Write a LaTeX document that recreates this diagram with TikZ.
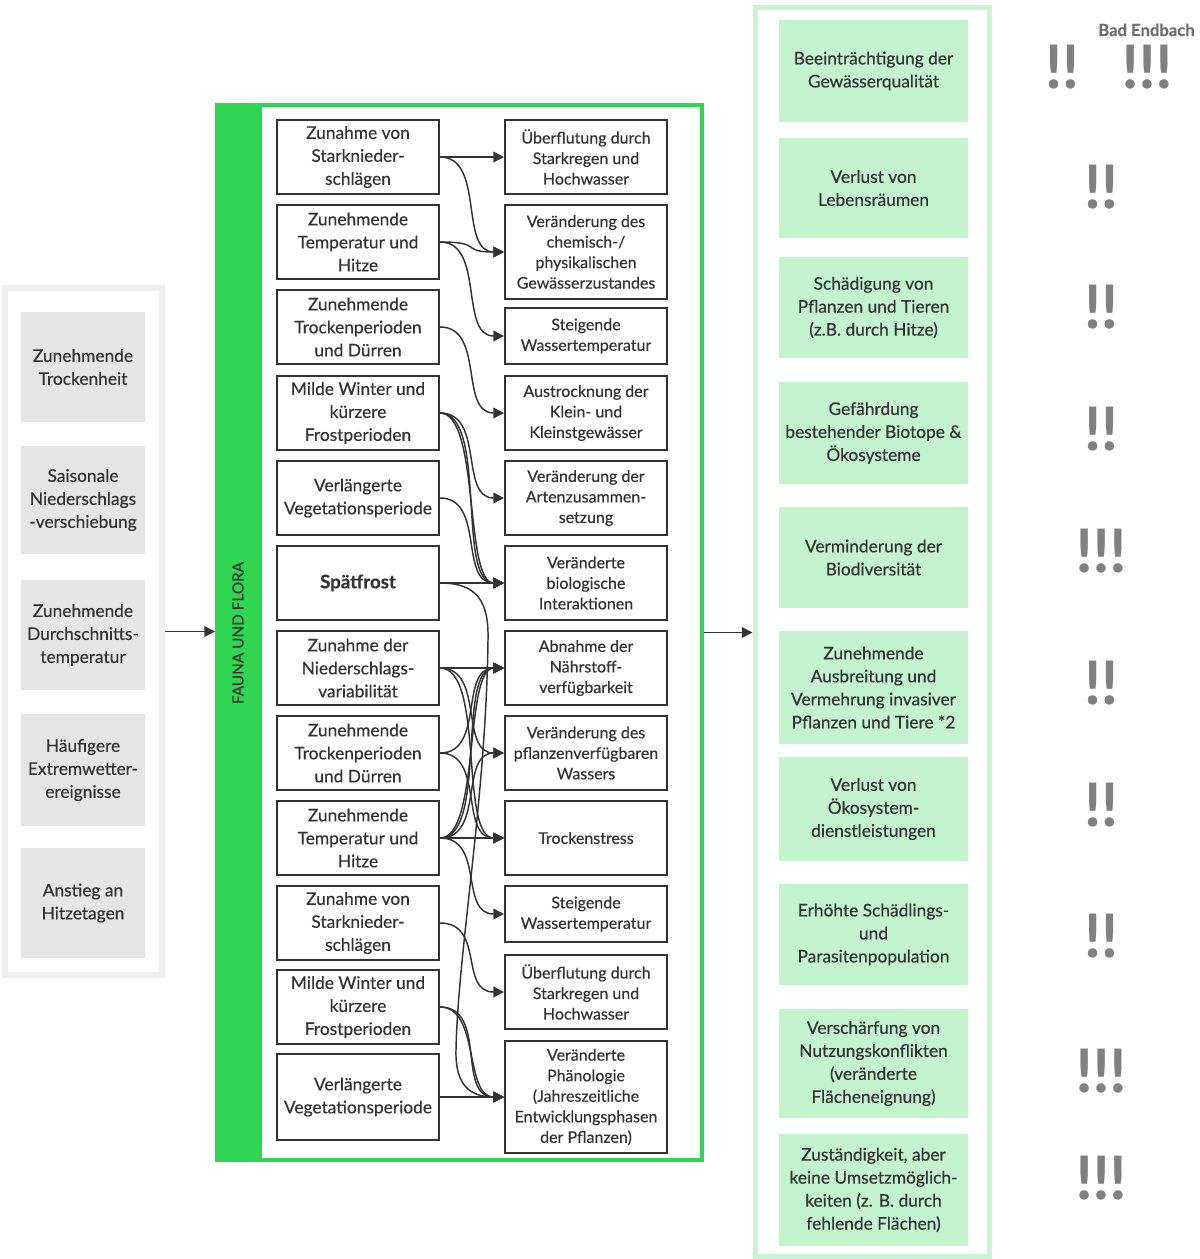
\documentclass[tikz,border=0pt]{standalone}
\usepackage{fontspec}
\setmainfont{Lato}[FakeBold=0.35]
\usetikzlibrary{arrows.meta}
\definecolor{txt}{HTML}{333333}
\definecolor{leaf}{HTML}{2ED651}
\definecolor{mint}{HTML}{C3F4CD}
\definecolor{mintframe}{HTML}{C9F3D3}
\definecolor{greybox}{HTML}{E6E6E6}
\definecolor{greyframe}{HTML}{EFEFEF}
\definecolor{alarm}{HTML}{808080}
\tikzstyle{driver} = [rectangle, fill=greybox, minimum width=93pt, minimum height=82.5pt, align=center, text=txt, font=\fontsize{13}{17.25}\selectfont]
\tikzstyle{cause} = [rectangle, draw=txt, line width=1.5pt, fill=white, minimum width=121.5pt, minimum height=55.5pt, align=center, text=txt, font=\fontsize{13}{17.25}\selectfont]
\tikzstyle{effect} = [rectangle, draw=txt, line width=1.5pt, fill=white, minimum width=121.5pt, minimum height=55.5pt, align=center, text=txt, font=\fontsize{12}{15.4}\selectfont]
\tikzstyle{impact} = [rectangle, fill=mint, minimum width=141.75pt, minimum height=76.5pt, align=center, text=txt, font=\fontsize{13}{17.25}\selectfont]
\tikzstyle{rating} = [anchor=base, text=alarm, font=\fontsize{45}{45}\selectfont\bfseries]
\tikzstyle{arrow} = [line width=1.1pt, draw=txt, -{Triangle[length=8pt,width=8pt]}]

\begin{document}
\begin{tikzpicture}[x=0.75pt,y=-0.75pt]
\useasboundingbox (0,0) rectangle (1199,1259);

%frames
\node[draw=greyframe, line width=4.5pt, minimum width=117.75pt, minimum height=515.25pt] (treiber) at (83.5,631.5) {};
\node[draw=leaf, line width=3pt, minimum width=363.75pt, minimum height=791.25pt] (fauna) at (459.5,632.5) {};
\node[fill=leaf, minimum width=35.25pt, minimum height=794.25pt] (faunabar) at (238.5,632.5) {};
\node[rotate=90, text=txt, font=\fontsize{11.5}{13}\selectfont] (faunalabel) at (238,633) {FAUNA UND FLORA};
\node[draw=mintframe, line width=3.75pt, minimum width=175.5pt, minimum height=936pt] (folgen) at (872,632) {};

%Treiber
\node[driver] (t1) at (83,367) {Zunehmende\\Trockenheit};
\node[driver, minimum height=81pt] (t2) at (83,500) {Saisonale\\Niederschlags\\-verschiebung};
\node[driver] (t3) at (83,635) {Zunehmende\\Durchschnitts-\\temperatur};
\node[driver, minimum height=84pt] (t4) at (83,770) {Häufigere\\Extremwetter-\\ereignisse};
\node[driver] (t5) at (83,903) {Anstieg an\\Hitzetagen};

%Ursachen
\node[cause] (u1) at (358,157) {Zunahme von\\Starknieder-\\schlägen};
\node[cause] (u2) at (358,242) {Zunehmende\\Temperatur und\\Hitze};
\node[cause] (u3) at (358,327) {Zunehmende\\Trockenperioden\\und Dürren};
\node[cause] (u4) at (358,413) {Milde Winter und\\kürzere\\Frostperioden};
\node[cause] (u5) at (358,498) {Verlängerte\\Vegetationsperiode};
\node[cause, font=\fontsize{14}{17.25}\selectfont\bfseries] (u6) at (358,583) {Spätfrost};
\node[cause] (u7) at (358,668) {Zunahme der\\Niederschlags-\\variabilität};
\node[cause] (u8) at (358,753) {Zunehmende\\Trockenperioden\\und Dürren};
\node[cause] (u9) at (358,838) {Zunehmende\\Temperatur und\\Hitze};
\node[cause] (u10) at (358,923) {Zunahme von\\Starknieder-\\schlägen};
\node[cause] (u11) at (358,1007) {Milde Winter und\\kürzere\\Frostperioden};
\node[cause, minimum height=64.5pt] (u12) at (358,1097) {Verlängerte\\Vegetationsperiode};

%Wirkungen
\node[effect] (w1) at (586,157) {Überflutung durch\\Starkregen und\\Hochwasser};
\node[effect, minimum height=70.5pt] (w2) at (586,252) {Veränderung des\\chemisch-/\\physikalischen\\Gewässerzustandes};
\node[effect, minimum height=42pt] (w3) at (586,336) {Steigende\\Wassertemperatur};
\node[effect] (w4) at (586,413) {Austrocknung der\\Klein- und\\Kleinstgewässer};
\node[effect] (w5) at (586,498) {Veränderung der\\Artenzusammen-\\setzung};
\node[effect] (w6) at (586,583) {Veränderte\\biologische\\Interaktionen};
\node[effect] (w7) at (586,668) {Abnahme der\\Nährstoff-\\verfügbarkeit};
\node[effect] (w8) at (586,753) {Veränderung des\\pflanzenverfügbaren\\Wassers};
\node[effect] (w9) at (586,838) {Trockenstress};
\node[effect, minimum height=42pt] (w10) at (586,914) {Steigende\\Wassertemperatur};
\node[effect] (w11) at (586,992) {Überflutung durch\\Starkregen und\\Hochwasser};
\node[effect, minimum height=84pt] (w12) at (586,1097) {Veränderte\\Phänologie\\(Jahreszeitliche\\Entwicklungsphasen\\der Pflanzen)};

%Folgen
\node[impact] (f1) at (873.5,71) {Beeinträchtigung der\\Gewässerqualität};
\node[impact, minimum height=75pt] (f2) at (873.5,188) {Verlust von\\Lebensräumen};
\node[impact, minimum height=75.75pt] (f3) at (873.5,307.5) {Schädigung von\\Pflanzen und Tieren\\(z.B. durch Hitze)};
\node[impact] (f4) at (873.5,433) {Gefährdung\\bestehender Biotope \&\\Ökosysteme};
\node[impact, minimum height=75.75pt] (f5) at (873.5,557.5) {Verminderung der\\Biodiversität};
\node[impact, minimum height=84.75pt] (f6) at (873.5,687.5) {Zunehmende\\Ausbreitung und\\Vermehrung invasiver\\Pflanzen und Tiere *2};
\node[impact, minimum height=78pt] (f7) at (873.5,809) {Verlust von\\Ökosystem-\\dienstleistungen};
\node[impact, minimum height=75.75pt] (f8) at (873.5,934.5) {Erhöhte Schädlings-\\und\\Parasitenpopulation};
\node[impact, minimum height=81.75pt] (f9) at (873.5,1063.5) {Verschärfung von\\Nutzungskonflikten\\(veränderte\\Flächeneignung)};
\node[impact, minimum height=84pt] (f10) at (873.5,1190) {Zuständigkeit, aber\\keine Umsetzmöglich-\\keiten (z. B. durch\\fehlende Flächen)};

%Bewertung
\node[anchor=base west, inner sep=0pt, text=alarm!85!black, font=\fontsize{12.5}{15}\selectfont\bfseries] (ort) at (1098,36) {Bad Endbach};
\node[rating] (r1a) at (1062,88) {!!};
\node[rating] (r1b) at (1147,88) {!!!};
\node[rating] (r2) at (1101,208) {!!};
\node[rating] (r3) at (1101,328) {!!};
\node[rating] (r4) at (1101,450) {!!};
\node[rating] (r5) at (1101,572) {!!!};
\node[rating] (r6) at (1101,704) {!!};
\node[rating] (r7) at (1101,826) {!!};
\node[rating] (r8) at (1101,957) {!!};
\node[rating] (r9) at (1101,1092) {!!!};
\node[rating] (r10) at (1101,1199) {!!!};

%arrows
\draw[arrow] (treiber.east) -- (treiber.east -| fauna.west);
\draw[arrow] (fauna.east) -- (fauna.east -| folgen.west);

\draw[arrow] (u1.east) .. controls +(45,0) and +(-45,0) .. (w1.west);
\draw[arrow] (u1.east) .. controls +(45,0) and +(-45,0) .. (w2.west);
\draw[arrow] (u2.east) .. controls +(45,0) and +(-45,0) .. (w2.west);
\draw[arrow] (u2.east) .. controls +(45,0) and +(-45,0) .. (w3.west);
\draw[arrow] (u3.east) .. controls +(45,0) and +(-45,0) .. (w4.west);
\draw[arrow] (u4.east) .. controls +(45,0) and +(-45,0) .. (w5.west);
\draw[arrow] (u4.east) .. controls +(40,0) and +(-40,0) .. (w6.west);
\draw[arrow] (u4.east) .. controls +(48,0) and +(-48,0) .. (w6.west);
\draw[arrow] (u5.east) .. controls +(45,0) and +(-45,0) .. (w6.west);
\draw[arrow] (u6.east) .. controls +(45,0) and +(-45,0) .. (w6.west);
\draw[arrow] (u6.east) .. controls (476,583) and (489,600) .. (488,640)
  .. controls (486,800) and (458,950) .. (456,1050)
  .. controls (455,1085) and (470,1097) .. (w12.west);
\draw[arrow] (u7.east) .. controls +(45,0) and +(-45,0) .. (w7.west);
\draw[arrow] (u7.east) .. controls +(45,0) and +(-45,0) .. (w8.west);
\draw[arrow] (u7.east) .. controls +(45,0) and +(-45,0) .. (w9.west);
\draw[arrow] (u8.east) .. controls +(45,0) and +(-45,0) .. (w7.west);
\draw[arrow] (u8.east) .. controls +(45,0) and +(-45,0) .. (w9.west);
\draw[arrow] (u9.east) .. controls +(40,0) and +(-40,0) .. (w7.west);
\draw[arrow] (u9.east) .. controls +(48,0) and +(-48,0) .. (w7.west);
\draw[arrow] (u9.east) .. controls +(45,0) and +(-45,0) .. (w8.west);
\draw[arrow] (u9.east) .. controls +(45,0) and +(-45,0) .. (w9.west);
\draw[arrow] (u9.east) .. controls +(45,0) and +(-45,0) .. (w10.west);
\draw[arrow] (u10.east) .. controls +(45,0) and +(-45,0) .. (w11.west);
\draw[arrow] (u11.east) .. controls +(40,0) and +(-40,0) .. (w12.west);
\draw[arrow] (u11.east) .. controls +(48,0) and +(-48,0) .. (w12.west);
\draw[arrow] (u12.east) .. controls +(45,0) and +(-45,0) .. (w12.west);

\end{tikzpicture}
\end{document}
